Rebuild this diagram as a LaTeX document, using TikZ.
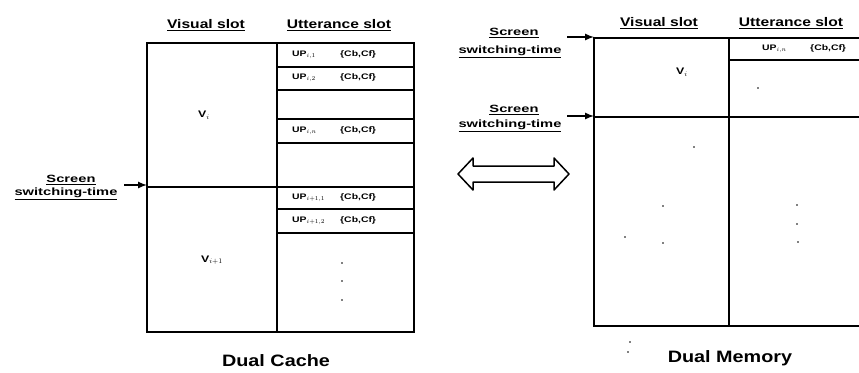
\documentclass[tikz,border=0pt]{standalone}
\usepackage{fontspec}
\newfontfamily\capfont[FakeStretch=1.2]{Liberation Sans}
\newfontfamily\hdfont[FakeStretch=1.25]{Liberation Sans}
\newfontfamily\swfont[FakeStretch=1.4]{Liberation Sans}
\newfontfamily\upfont[FakeStretch=1.3]{Liberation Sans}
\tikzset{
  boxline/.style={line width=2.1pt},
  slothead/.style={font=\hdfont\bfseries\fontsize{12.5}{14}\selectfont, inner sep=0pt},
  swlabel/.style={font=\swfont\bfseries\fontsize{10.5}{12}\selectfont, inner sep=0pt},
  upentry/.style={font=\upfont\bfseries\fontsize{8}{9}\selectfont, inner sep=0pt, anchor=west},
  vlabel/.style={font=\upfont\bfseries\fontsize{9.5}{10}\selectfont, inner sep=0pt},
  caption/.style={font=\capfont\bfseries\fontsize{16.5}{19}\selectfont, inner sep=0pt},
  swarrow/.style={-latex, line width=2pt},
  spot/.style={fill, inner sep=0pt, minimum size=1.8pt, circle}
}
\newcommand{\upslot}[1]{\makebox[48pt][l]{UP$_{#1}$}\{Cb,Cf\}}
\begin{document}
\begin{tikzpicture}[x=1pt,y=-1pt]
    \useasboundingbox (0,0) rectangle (859,372);

    %dual cache
    \draw[boxline] (147,43) rectangle (414,332);
    \draw[boxline] (277,43)--(277,332);
    \draw[boxline] (147,187)--(414,187);
    \foreach \y in {67,90,119,143,209,233}
        \draw[boxline] (277,\y)--(414,\y);

    \node[slothead] (vs1) at (206,25) {\underline{Visual slot}};
    \node[slothead] (us1) at (339,25) {\underline{Utterance slot}};

    \node[upentry] (up1) at (292,55) {\upslot{i,1}};
    \node[upentry] (up2) at (292,78) {\upslot{i,2}};
    \node[upentry] (up3) at (292,131) {\upslot{i,n}};
    \node[upentry] (up4) at (292,198) {\upslot{i+1,1}};
    \node[upentry] (up5) at (292,221) {\upslot{i+1,2}};

    \node[vlabel] (v1) at (204,115) {V$_{i}$};
    \node[vlabel] (v2) at (212,260) {V$_{i+1}$};

    \foreach \y [count=\k] in {263,281,300}
        \node[spot] (cd\k) at (342,\y) {};

    \node[swlabel] (scr1) at (71,180) {\underline{Screen}};
    \node[swlabel] (sw1) at (66,194) {\underline{switching-time}};
    \coordinate (a1s) at (124,185);
    \coordinate (a1e) at (147,185);
    \draw[swarrow] (a1s)--(a1e);

    \node[caption] (cap1) at (276,361) {Dual Cache};

    %freccia doppia
    \draw[line width=1.5pt,line join=round] (458,174)--(473,158)--(473,166)--(554,166)--(554,158)
        --(569,174)--(554,190)--(554,182)--(473,182)--(473,190)--cycle;

    %dual memory
    \draw[boxline] (859,38)--(594,38)--(594,326)--(859,326);
    \draw[boxline] (729,38)--(729,326);
    \draw[boxline] (729,60)--(859,60);
    \draw[boxline] (594,117)--(859,117);

    \node[slothead] (vs2) at (659,23) {\underline{Visual slot}};
    \node[slothead] (us2) at (791,23) {\underline{Utterance slot}};

    \node[upentry] (up6) at (762,49) {\upslot{i,n}};
    \node[vlabel] (v3) at (682,72) {V$_{i}$};

    \foreach \x/\y [count=\k] in {797/205,797/224,798/242,663/206,663/243,625/237,694/147,758/88,630/342,628/352}
        \node[spot] (md\k) at (\x,\y) {};

    \node[swlabel] (scr2) at (514,33) {\underline{Screen}};
    \node[swlabel] (sw2) at (510,52) {\underline{switching-time}};
    \coordinate (a2s) at (567,37);
    \coordinate (a2e) at (594,37);
    \draw[swarrow] (a2s)--(a2e);

    \node[swlabel] (scr3) at (514,110) {\underline{Screen}};
    \node[swlabel] (sw3) at (510,126) {\underline{switching-time}};
    \coordinate (a3s) at (567,116);
    \coordinate (a3e) at (594,116);
    \draw[swarrow] (a3s)--(a3e);

    \node[caption] (cap2) at (730,358) {Dual Memory};
\end{tikzpicture}
\end{document}
